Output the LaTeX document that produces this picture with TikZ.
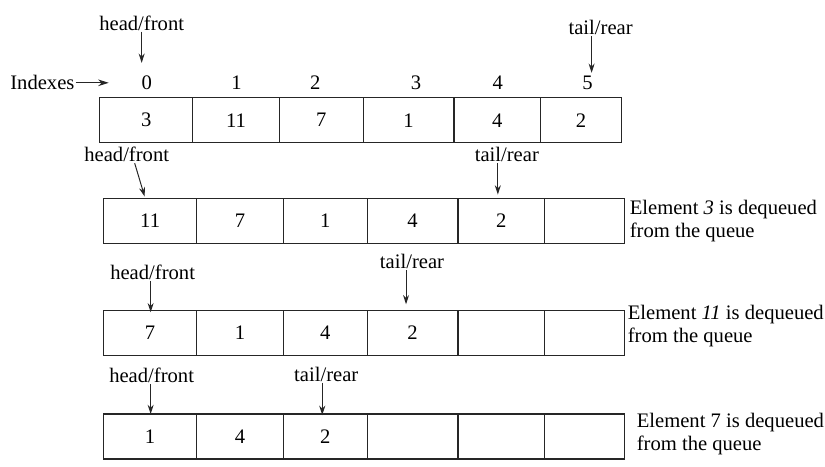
\documentclass[tikz,border=0pt]{standalone}
\usepackage{fontspec}
\setmainfont{Liberation Serif}
\usetikzlibrary{arrows.meta, positioning}

\tikzset{
  cell/.style={draw=black!85, line width=0.9pt, minimum height=33.75pt, inner sep=0pt},
  pointer/.style={draw=black!85, line width=0.75pt, -{Stealth[length=7pt,width=4.5pt]}},
  lbl/.style={inner sep=0.75pt},
}

\begin{document}
\begin{tikzpicture}[x=0.75pt,y=0.75pt,yscale=-1,xscale=1,font=\fontsize{15.5}{17.25}\selectfont]
%set diagram size 825 x 468
\path (0,0) rectangle (825,468);

%Queue 1 [full]
\node [cell, minimum width=69.75pt] (a0) at (146.5,120.5) {3};
\node [cell, minimum width=65.25pt] (a1) at (236.5,120.5) {11};
\node [cell, minimum width=63pt]    (a2) at (322,120.5)   {7};
\node [cell, minimum width=68.25pt] (a3) at (409.5,120.5) {1};
\node [cell, minimum width=65.25pt] (a4) at (498.5,120.5) {4};
\node [cell, minimum width=60.75pt] (a5) at (582.5,120.5) {2};

% Text Node
\node [lbl] (i0) at (147,83) {0};
\node [lbl] (i1) at (237,83) {1};
\node [lbl] (i2) at (316,83) {2};
\node [lbl] (i3) at (417,83) {3};
\node [lbl] (i4) at (499,83) {4};
\node [lbl] (i5) at (589,83) {5};
% Text Node
\node [lbl] (idx) at (42.5,83) {Indexes};
\coordinate (idxtip) at (109,83);
\draw [pointer, -{Stealth[length=8pt,width=5pt]}] (idx) -- (idxtip);

% Text Node
\node [lbl] (hf1) at (142,23) {head/front};
\coordinate (hf1tip) at (142,63);
\draw [pointer] (hf1.south -| hf1tip) -- (hf1tip);
% Text Node
\node [lbl] (tr1) at (602,28) {tail/rear};
\coordinate (tr1tip) at (593,73);
\draw [pointer] (tr1.south -| tr1tip) -- (tr1tip);

%Queue 2
\node [cell, minimum width=69.75pt] (b0) at (150.5,221.5) {11};
\node [cell, minimum width=65.25pt] (b1) at (240.5,221.5) {7};
\node [cell, minimum width=63pt]    (b2) at (326,221.5)   {1};
\node [cell, minimum width=68.25pt] (b3) at (413.5,221.5) {4};
\node [cell, minimum width=65.25pt] (b4) at (502.5,221.5) {2};
\node [cell, minimum width=60pt]    (b5) at (586,221.5)   {};

% Text Node
\node [lbl] (hf2) at (127,155) {head/front};
\coordinate (hf2tip) at (145,197);
\draw [pointer] ([xshift=6pt]hf2.south) -- (hf2tip);
% Text Node
\node [lbl] (tr2) at (508,155) {tail/rear};
\coordinate (tr2tip) at (499,195);
\draw [pointer] (tr2.south -| tr2tip) -- (tr2tip);
% Text Node
\node [lbl, anchor=west, align=left] (msg2) at (630,221.5) {Element \textit{3} is dequeued\\from the queue};

%Queue 3
\node [cell, minimum width=69.75pt] (c0) at (150.5,333.5) {7};
\node [cell, minimum width=65.25pt] (c1) at (240.5,333.5) {1};
\node [cell, minimum width=63pt]    (c2) at (326,333.5)   {4};
\node [cell, minimum width=68.25pt] (c3) at (413.5,333.5) {2};
\node [cell, minimum width=65.25pt] (c4) at (502.5,333.5) {};
\node [cell, minimum width=60pt]    (c5) at (586,333.5)   {};

% Text Node
\node [lbl] (hf3) at (153,273) {head/front};
\coordinate (hf3tip) at (151,313);
\draw [pointer] (hf3.south -| hf3tip) -- (hf3tip);
% Text Node
\node [lbl] (tr3) at (413,262) {tail/rear};
\coordinate (tr3tip) at (407,305);
\draw [pointer] (tr3.south -| tr3tip) -- (tr3tip);
% Text Node
\node [lbl, anchor=west, align=left] (msg3) at (628,327) {Element \textit{11} is dequeued\\from the queue};

%Queue 4
\node [cell, minimum width=69.75pt] (d0) at (150.5,437.5) {1};
\node [cell, minimum width=65.25pt] (d1) at (240.5,437.5) {4};
\node [cell, minimum width=63pt]    (d2) at (326,437.5)   {2};
\node [cell, minimum width=68.25pt] (d3) at (413.5,437.5) {};
\node [cell, minimum width=65.25pt] (d4) at (502.5,437.5) {};
\node [cell, minimum width=60pt]    (d5) at (586,437.5)   {};

% Text Node
\node [lbl] (hf4) at (152,376) {head/front};
\coordinate (hf4tip) at (151,415);
\draw [pointer] (hf4.south -| hf4tip) -- (hf4tip);
% Text Node
\node [lbl] (tr4) at (327,375) {tail/rear};
\coordinate (tr4tip) at (323,416);
\draw [pointer] (tr4.south -| tr4tip) -- (tr4tip);
% Text Node
\node [lbl, anchor=west, align=left] (msg4) at (637,435.5) {Element 7 is dequeued\\from the queue};

\end{tikzpicture}
\end{document}
